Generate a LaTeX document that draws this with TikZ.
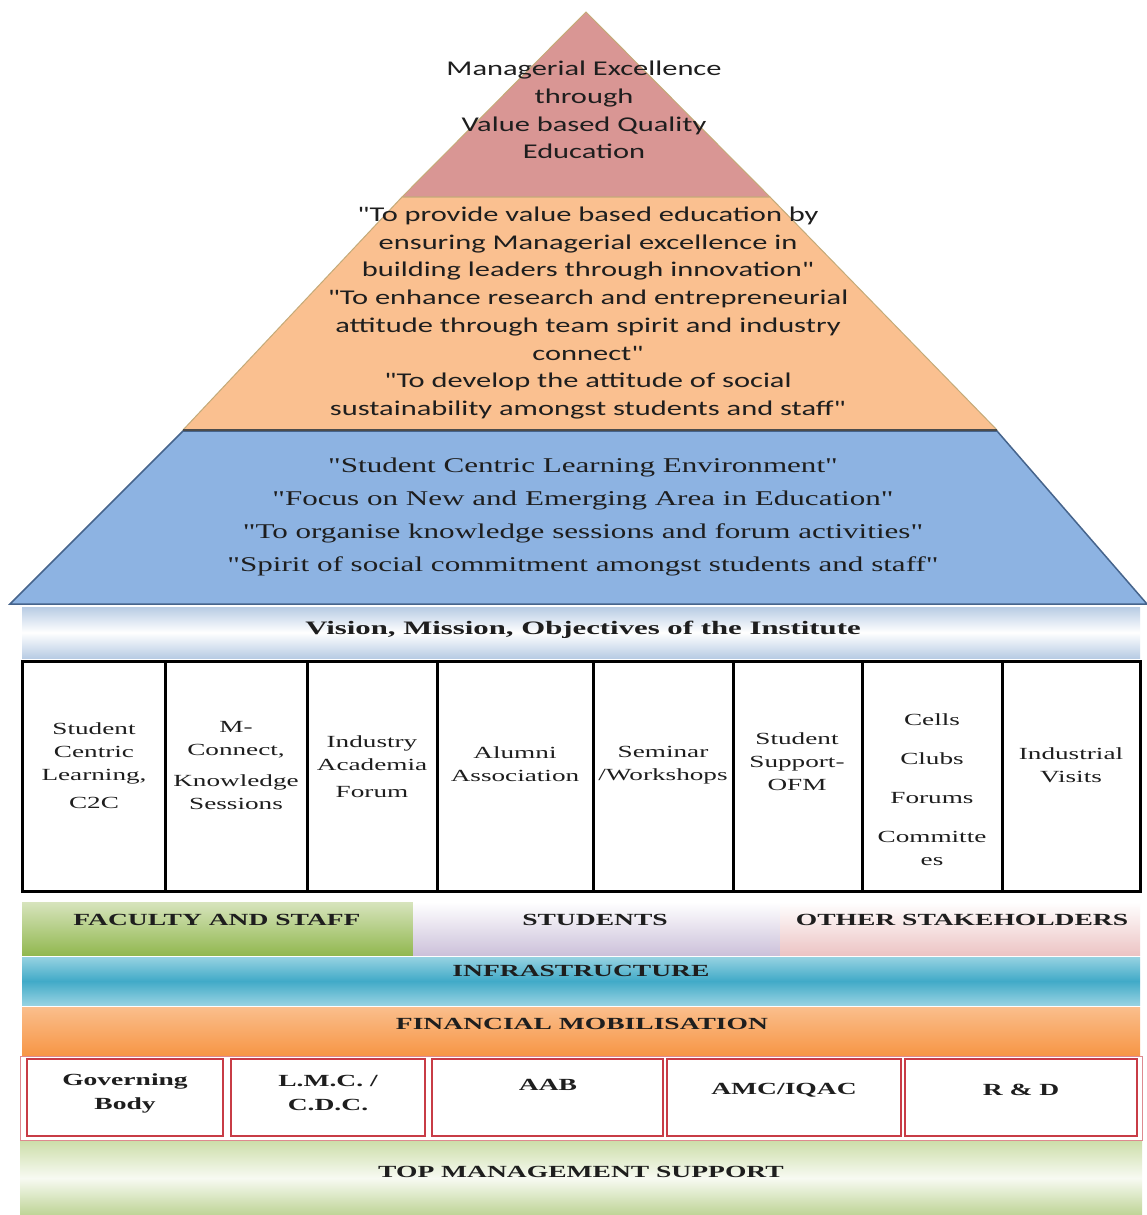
\documentclass[tikz,border=0pt]{standalone}
\usepackage{fontspec}
\newfontfamily\pyrfont[FakeStretch=1.45]{Carlito}
\newfontfamily\bluefont[FakeStretch=1.48]{Liberation Serif}
\newfontfamily\colfont[FakeStretch=1.6]{Liberation Serif}
\newfontfamily\capfont[FakeStretch=1.62]{Liberation Serif}
\definecolor{pinkf}{RGB}{217,150,148}
\definecolor{pinke}{RGB}{196,170,120}
\definecolor{orangef}{RGB}{250,192,144}
\definecolor{bluef}{RGB}{141,179,226}
\definecolor{bluee}{RGB}{70,100,140}
\definecolor{visblue}{RGB}{184,204,228}
\definecolor{facg1}{RGB}{215,228,189}
\definecolor{facg2}{RGB}{146,184,80}
\definecolor{stul}{RGB}{204,193,218}
\definecolor{othp}{RGB}{236,196,196}
\definecolor{infra}{RGB}{65,170,200}
\definecolor{infral}{RGB}{150,210,225}
\definecolor{fin}{RGB}{247,150,70}
\definecolor{finl}{RGB}{250,190,140}
\definecolor{redb}{RGB}{200,60,70}
\definecolor{tmg1}{RGB}{205,222,170}
\definecolor{tmg2}{RGB}{190,212,150}
\definecolor{txt}{RGB}{30,30,30}
\tikzset{
  pyrtxt/.style={align=center, text=txt, font=\pyrfont\fontsize{21}{27.7}\selectfont},
  bluetxt/.style={align=center, text=txt, font=\bluefont\fontsize{21}{33}\selectfont},
  coltxt/.style={align=center, text=txt, font=\colfont\fontsize{17}{23}\selectfont},
  captxt/.style={align=center, text=txt, font=\capfont\bfseries\fontsize{17}{20}\selectfont},
  boxtxt/.style={align=center, text=txt, font=\capfont\bfseries\fontsize{17}{24}\selectfont},
  colbox/.style={draw=black, line width=3pt, fill=white},
  redbox/.style={draw=redb, line width=2pt, fill=white}
}
\begin{document}
\begin{tikzpicture}[x=1pt,y=-1pt]
\useasboundingbox (0,0) rectangle (1147,1215);
\fill[white] (0,0) rectangle (1147,1215);
% pyramid
\filldraw[fill=pinkf, draw=pinke, line width=1pt] (586,12) -- (770,197) -- (402,197) -- cycle;
\filldraw[fill=orangef, draw=pinke, line width=1pt] (402,197) -- (770,197) -- (997,430) -- (183,430) -- cycle;
\filldraw[fill=bluef, draw=bluee, line width=1.5pt] (183,431) -- (997,431) -- (1147,604) -- (10,604) -- cycle;
\draw[black!70, line width=2.5pt] (183,430) -- (997,430);
\node[pyrtxt] (top) at (584,110) {Managerial Excellence\\through\\Value based Quality\\Education};
\node[pyrtxt] (mission) at (588,313) {"To provide value based education by\\ensuring Managerial excellence in\\building leaders through innovation"\\"To enhance research and entrepreneurial\\attitude through team spirit and industry\\connect"\\"To develop the attitude of social\\sustainability amongst students and staff"};
\node[bluetxt] (obj) at (583,517) {"Student Centric Learning Environment"\\"Focus on New and Emerging Area in Education"\\"To organise knowledge sessions and forum activities"\\"Spirit of social commitment amongst students and staff"};
% vision band
\shade[top color=visblue, bottom color=visblue, middle color=white] (22,607) rectangle (1140,658);
\node[captxt, font=\capfont\bfseries\fontsize{19}{20}\selectfont] (vision) at (583,630) {Vision, Mission, Objectives of the Institute};
% columns
\foreach \a/\b [count=\i] in {22/165,165/307,307/437,437/593,593/733,733/862,862/1002,1002/1140}
  \draw[colbox] (\a,661) rectangle (\b,891);
\node[coltxt] (c1) at (94,766) {Student\\Centric\\Learning,\\[5pt]C2C};
\node[coltxt] (c2) at (236,766) {M-\\Connect,\\[8pt]Knowledge\\Sessions};
\node[coltxt] (c3) at (372,767) {Industry\\Academia\\[4pt]Forum};
\node[coltxt] (c4) at (515,764) {Alumni\\Association};
\node[coltxt] (c5) at (663,765) {Seminar\\/Workshops};
\node[coltxt] (c6) at (797,762) {Student\\Support-\\OFM};
\node[coltxt] (c7) at (932,790) {Cells\\[16pt]Clubs\\[16pt]Forums\\[16pt]Committe\\es};
\node[coltxt] (c8) at (1071,765) {Industrial\\Visits};
% stakeholders row
\shade[top color=facg1, bottom color=facg2] (22,902) rectangle (413,955);
\shade[top color=white, bottom color=stul] (413,902) rectangle (780,955);
\shade[top color=white, bottom color=othp] (780,902) rectangle (1140,955);
\node[captxt] (fac) at (217,920) {FACULTY AND STAFF};
\node[captxt] (stu) at (595,920) {STUDENTS};
\node[captxt] (oth) at (962,920) {OTHER STAKEHOLDERS};
% infrastructure
\shade[top color=infral, bottom color=infral, middle color=infra] (22,957) rectangle (1140,1005);
\node[captxt] (infra) at (581,971) {INFRASTRUCTURE};
% financial
\shade[top color=finl, bottom color=fin] (22,1007) rectangle (1140,1055);
\node[captxt] (fin) at (582,1024) {FINANCIAL MOBILISATION};
% boxes
\draw[redb!60, line width=1pt] (20,1056) rectangle (1142,1140);
\draw[redbox] (27,1059) rectangle (223,1136);
\draw[redbox] (231,1059) rectangle (425,1136);
\draw[redbox] (432,1059) rectangle (663,1136);
\draw[redbox] (667,1059) rectangle (901,1136);
\draw[redbox] (905,1059) rectangle (1137,1136);
\node[boxtxt] (gb) at (125,1093) {Governing\\Body};
\node[boxtxt] (lmc) at (328,1093) {L.M.C. /\\C.D.C.};
\node[boxtxt] (aab) at (548,1085) {AAB};
\node[boxtxt] (amc) at (784,1090) {AMC/IQAC};
\node[boxtxt] (rd) at (1021,1090) {R \& D};
% top management
\shade[top color=tmg1, bottom color=tmg2, middle color=white!85!tmg1] (20,1141) rectangle (1142,1215);
\node[captxt] (tms) at (581,1172) {TOP MANAGEMENT SUPPORT};
\end{tikzpicture}
\end{document}
